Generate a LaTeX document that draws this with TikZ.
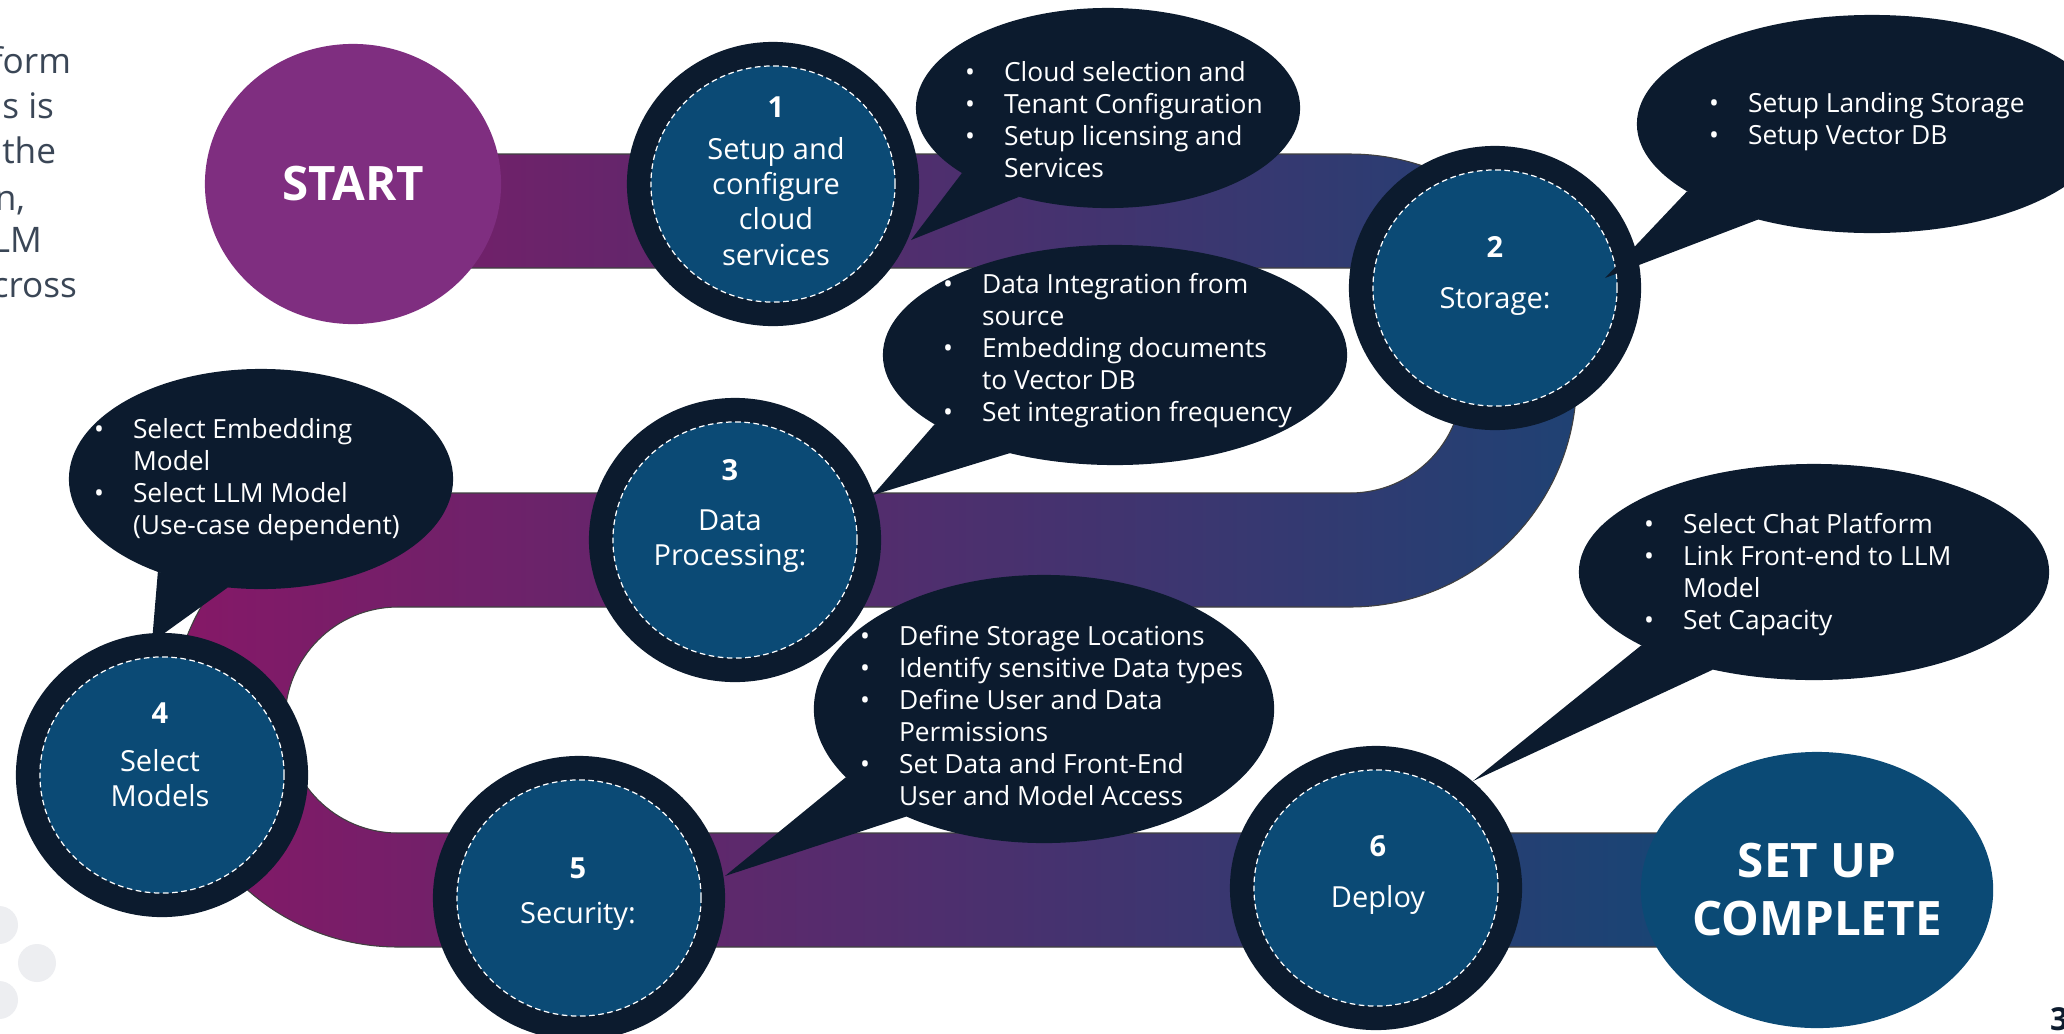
\documentclass[tikz,border=0pt]{standalone}
\usepackage{fontspec}
\setmainfont{Open Sans}
\usetikzlibrary{shapes.geometric}
\definecolor{ringnavy}{HTML}{0C1B2E}
\definecolor{coreblue}{HTML}{0B4A75}
\definecolor{startpurple}{HTML}{7F2E80}
\definecolor{bandleft}{HTML}{861867}
\definecolor{bandright}{HTML}{124775}
\definecolor{introgray}{HTML}{3A4656}
\definecolor{dotgray}{HTML}{EDEEF1}
\def\bitem{\makebox[0.39cm][l]{•}}
\def\bcont{\hspace*{0.39cm}}

\begin{document}
\begin{tikzpicture}[x=0.01cm,y=-0.01cm,every node/.style={inner sep=0pt,outer sep=0pt}]
	\tikzstyle{stepnode}=[ellipse,minimum width=2.44cm,minimum height=2.36cm,fill=coreblue,draw=white,line width=0.35pt,dash pattern=on 1.6pt off 1pt,preaction={draw=ringnavy,line width=0.48cm,solid}]
	\tikzstyle{steplabel}=[text=white,align=center,font=\fontsize{8.25pt}{10pt}\selectfont]
	\tikzstyle{endnode}=[ellipse,minimum width=2.96cm,minimum height=2.8cm,text=white,align=center,font=\fontsize{13.5pt}{16.5pt}\selectfont\bfseries]
	\tikzstyle{callout}=[ellipse,fill=ringnavy]
	\tikzstyle{callouttext}=[anchor=west,text=white,align=left,font=\fontsize{7.5pt}{9.1pt}\selectfont]
	\tikzstyle{tail}=[fill=ringnavy]

	\useasboundingbox (0,0) rectangle (2064,1033);
	\fill[white] (0,0) rectangle (2064,1033);

	% cut-off intro text and dots on the left
	\foreach \x/\y/\t [count=\i] in {71/73/form,54/118/s is,56/163/the,25/210/{n,},42/252/LM,77/297/cross}
		\node[anchor=base east,text=introgray,font=\fontsize{10pt}{12.8pt}\selectfont] (intro\i) at (\x,\y) {\t};
	\fill[dotgray] (-1,925) circle (19) (37,963) circle (19) (-1,1000) circle (19);

	% the road
	\draw[black!75,line width=0.3pt,left color=bandleft,right color=bandright]
		(400,154) -- (1350,154) arc[start angle=-90,end angle=90,radius=226.5]
		-- (398,607) arc[start angle=270,end angle=90,radius=113]
		-- (1760,833) -- (1760,947) -- (398,947)
		arc[start angle=90,end angle=270,radius=227]
		-- (1350,493) arc[start angle=90,end angle=-90,radius=112.5]
		-- (400,268) -- cycle;

	% stops
	\node[endnode,fill=startpurple] (start) at (353,184) {START};
	\node[stepnode] (s1) at (773,184) {};
	\node[stepnode] (s2) at (1495,288) {};
	\node[stepnode] (s3) at (735,540) {};
	\node[stepnode] (s4) at (162,775) {};
	\node[stepnode] (s5) at (579,898) {};
	\node[stepnode] (s6) at (1376,888) {};
	\node[endnode,fill=coreblue,minimum width=2.88cm,minimum height=2.76cm] (done) at (1817,890) {SET UP\\COMPLETE};

	\node[steplabel] (l1) at (776,181) {\textbf{1}\\[0.07cm]Setup and\\configure\\cloud\\services};
	\node[steplabel] (l2) at (1495,276) {\textbf{2}\\[0.15cm]Storage:};
	\node[steplabel] (l3) at (730,516) {\textbf{3}\\[0.15cm]Data\\Processing:};
	\node[steplabel] (l4) at (160,755) {\textbf{4}\\[0.13cm]Select\\Models};
	\node[steplabel] (l5) at (578,894) {\textbf{5}\\[0.1cm]Security:};
	\node[steplabel] (l6) at (1378,875) {\textbf{6}\\[0.15cm]Deploy};

	% speech bubbles
	\node[callout,minimum width=3.84cm,minimum height=2cm] (b1) at (1108,108) {};
	\coordinate (t1) at (911,240);
	\path[tail] (b1.204) -- (b1.225) -- (t1) -- cycle;
	\node[callout,minimum width=4.7cm,minimum height=2.18cm] (b2) at (1872,124) {};
	\coordinate (t2) at (1605,278);
	\path[tail] (b2.200) -- (b2.220) -- (t2) -- cycle;
	\node[callout,minimum width=4.64cm,minimum height=2.2cm] (b3) at (1115,355) {};
	\coordinate (t3) at (873,495);
	\path[tail] (b3.201) -- (b3.223) -- (t3) -- cycle;
	\node[callout,minimum width=3.84cm,minimum height=2.2cm] (b4) at (261,479) {};
	\coordinate (t4) at (152,642);
	\path[tail] (b4.222) -- (b4.253) -- (t4) -- cycle;
	\node[callout,minimum width=4.6cm,minimum height=2.68cm] (b5) at (1044,709) {};
	\coordinate (t5) at (725,876);
	\path[tail] (b5.199) -- (b5.218) -- (t5) -- cycle;
	\node[callout,minimum width=4.7cm,minimum height=2.16cm] (b6) at (1814,572) {};
	\coordinate (t6) at (1473,781);
	\path[tail] (b6.203) -- (b6.224) -- (t6) -- cycle;

	\node[callouttext] (n1) at (965,120) {\bitem Cloud selection and\\\bitem Tenant Configuration\\\bitem Setup licensing and\\\bcont Services};
	\node[callouttext] (n2) at (1709,122) {\bitem Setup Landing Storage\\\bitem Setup Vector DB};
	\node[callouttext] (n3) at (943,351) {\bitem Data Integration from\\\bcont source\\\bitem Embedding documents\\\bcont to Vector DB\\\bitem Set integration frequency};
	\node[callouttext] (n4) at (94,480) {\bitem Select Embedding\\\bcont Model\\\bitem Select LLM Model\\\bcont (Use-case dependent)};
	\node[callouttext] (n5) at (860,716) {\bitem Define Storage Locations\\\bitem Identify sensitive Data types\\\bitem Define User and Data\\\bcont Permissions\\\bitem Set Data and Front-End\\\bcont User and Model Access};
	\node[callouttext] (n6) at (1644,575) {\bitem Select Chat Platform\\\bitem Link Front-end to LLM\\\bcont Model\\\bitem Set Capacity};

	\node[anchor=west,text=ringnavy,font=\fontsize{9pt}{9pt}\selectfont\bfseries] (pagenum) at (2050,1019) {3};
\end{tikzpicture}
\end{document}
